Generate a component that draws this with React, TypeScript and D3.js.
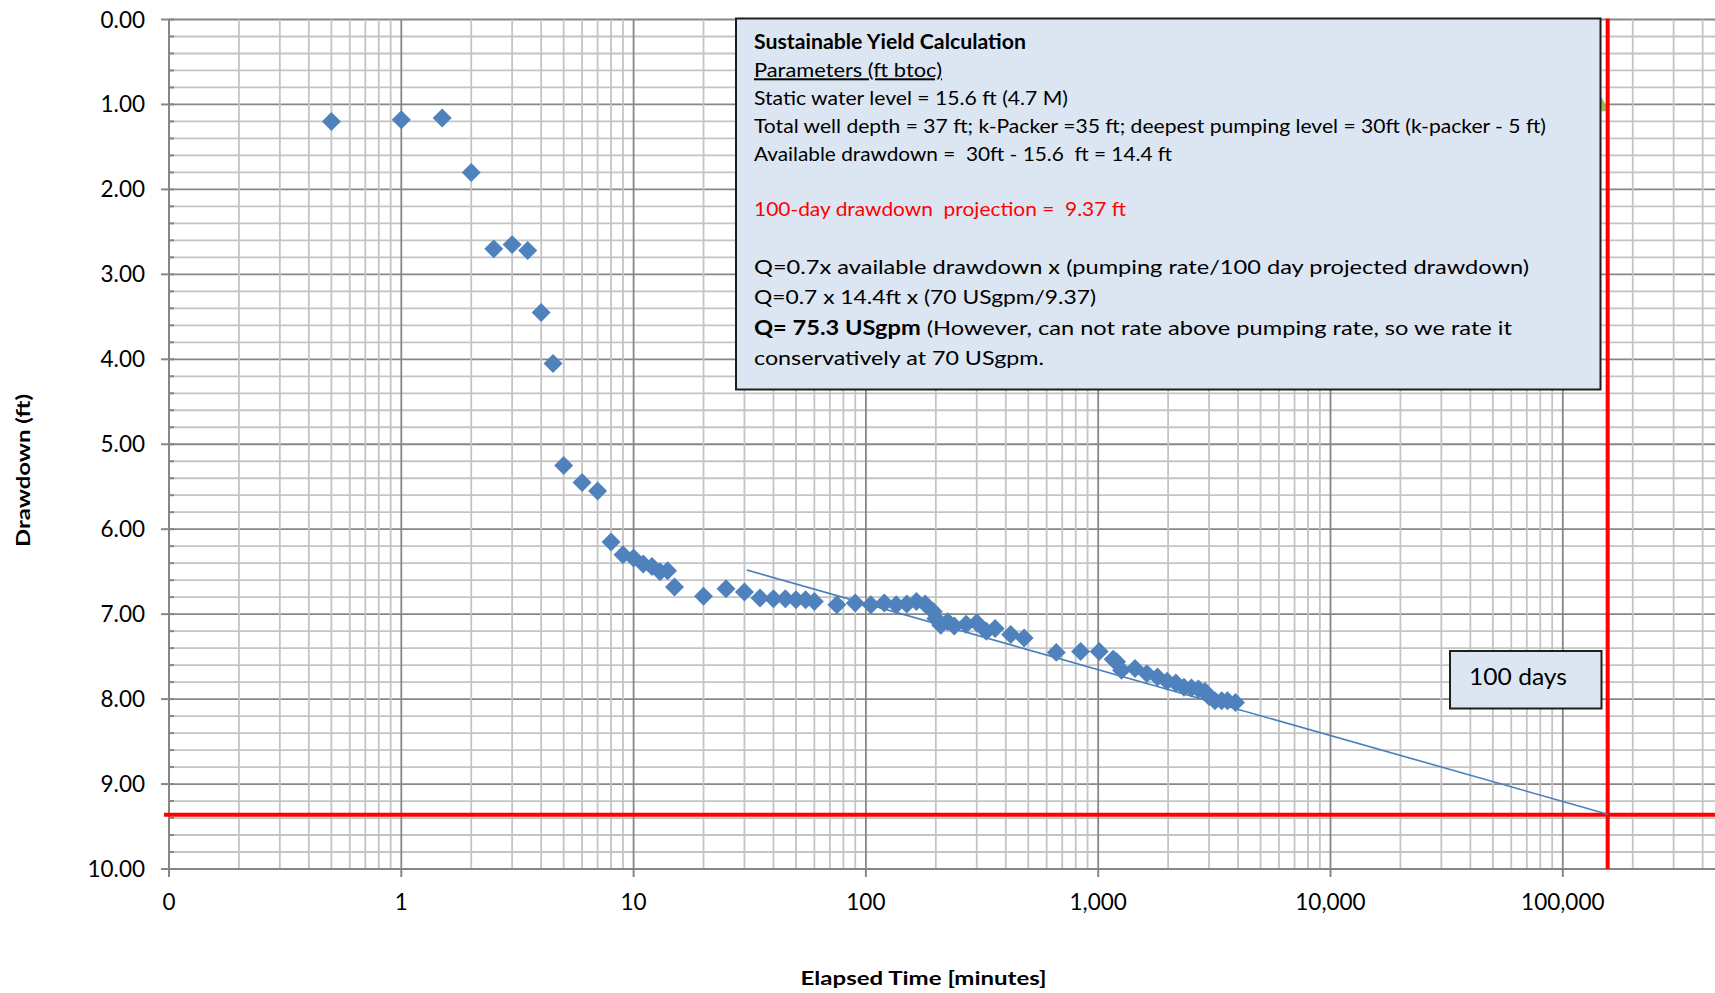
import React from 'react';
import * as d3 from 'd3';

// ---------- data ----------
const times = [
  0.5, 1, 1.5, 2, 2.5, 3, 3.5, 4, 4.5, 5, 6, 7, 8, 9, 10, 11, 12, 13, 14, 15,
  20, 25, 30, 35, 40, 45, 50, 55, 60, 75, 90, 105, 120, 135, 150, 165, 180,
  195, 200, 210, 225, 240, 270, 300, 330, 360, 420, 480, 660, 840, 1010, 1160,
  1200, 1260, 1440, 1620, 1800, 1980, 2160, 2340, 2520, 2700, 2880, 3000, 3180,
  3400, 3600, 3900,
];
const drawdowns = [
  1.2, 1.18, 1.16, 1.8, 2.7, 2.65, 2.72, 3.45, 4.05, 5.25, 5.45, 5.55, 6.15, 6.3,
  6.34, 6.41, 6.44, 6.5, 6.49, 6.68, 6.79, 6.7, 6.74, 6.81, 6.82, 6.82, 6.83,
  6.83, 6.85, 6.89, 6.87, 6.89, 6.87, 6.89, 6.88, 6.85, 6.88, 6.97, 7.05, 7.13,
  7.09, 7.14, 7.12, 7.1, 7.2, 7.17, 7.24, 7.28, 7.45, 7.44, 7.44, 7.53, 7.56,
  7.66, 7.64, 7.7, 7.74, 7.79, 7.81, 7.86, 7.87, 7.88, 7.91, 7.97, 8.02, 8.02,
  8.02, 8.04,
];
const trendTimes = [30.7, 156000];
const trendDrawdowns = [6.48, 9.355];
const projectionTime = 156000;
const projectionDrawdown = 9.36;
const hundredDayTime = 144000;
const hundredDayDrawdown = 1.0;

const xTickValues = [0.1, 1, 10, 100, 1000, 10000, 100000];
const xTickLabels = ['0', '1', '10', '100', '1,000', '10,000', '100,000'];
const yTickValues = [0, 1, 2, 3, 4, 5, 6, 7, 8, 9, 10];
const yTickLabels = yTickValues.map((v) => v.toFixed(2));

const boxLines = [
  'Sustainable Yield Calculation',
  'Parameters (ft btoc)',
  'Static water level = 15.6 ft (4.7 M)',
  'Total well depth = 37 ft; k-Packer =35 ft; deepest pumping level = 30ft (k-packer - 5 ft)',
  'Available drawdown =  30ft - 15.6  ft = 14.4 ft',
  '100-day drawdown  projection =  9.37 ft',
  'Q=0.7x available drawdown x (pumping rate/100 day projected drawdown)',
  'Q=0.7 x 14.4ft x (70 USgpm/9.37)',
  '(However, can not rate above pumping rate, so we rate it',
  'conservatively at 70 USgpm.',
];
const boldLead = 'Q= 75.3 USgpm';

// ---------- layout ----------
const W = 1715;
const H = 993;
const X0 = 169;
const DEC = 232.3;
const Y0 = 19.5;
const Y1 = 869;
const FONT = "Lato, 'Open Sans', 'Liberation Sans', sans-serif";
const boxBaselines = [49.3, 77.3, 105, 133.3, 161, 216, 274, 304, 335, 365];
const boxWidths = [272, 188, 314, 792, 418, 372, 775, 342, 758, 290];
const boxStyles = ['bold', 'underline', '', '', '', 'red', '', '', 'boldlead', ''];

export default function App() {
  const x = d3.scaleLog().domain([0.1, 1e6]).range([X0, X0 + 7 * DEC]);
  const y = d3.scaleLinear().domain([0, 10]).range([Y0, Y1]);

  const vTicks = x.ticks().filter((t) => x(t) <= W + 2);
  const isMajor = (t: number) => Math.abs(Math.log10(t) - Math.round(Math.log10(t))) < 1e-9;
  const hMinor = d3.range(0, 10.0001, 0.2);

  const diamond = d3.symbol(d3.symbolSquare, 180)()!;
  const trendLine = d3.line<number>()
    .x((_, i) => x(trendTimes[i]))
    .y((d) => y(d))(trendDrawdowns)!;
  const triangle = d3.symbol(d3.symbolTriangle, 170)()!;

  return (
    <svg
      width={W}
      height={H}
      style={{ position: 'absolute', left: 0, top: 0, background: '#fff', fontFamily: FONT }}
    >
      <rect x={0} y={0} width={W} height={H} fill="#fff" />
      {/* horizontal grid */}
      {hMinor.map((v, i) => {
        const major = Math.abs(v - Math.round(v)) < 1e-6;
        return (
          <line
            key={'h' + i}
            x1={X0}
            x2={W}
            y1={y(v)}
            y2={y(v)}
            stroke={major ? '#878787' : '#c4c4c4'}
            strokeWidth={1.8}
          />
        );
      })}
      {/* vertical grid */}
      {vTicks.map((t, i) => (
        <line
          key={'v' + i}
          x1={x(t)}
          x2={x(t)}
          y1={Y0}
          y2={Y1}
          stroke={isMajor(t) ? '#878787' : '#c4c4c4'}
          strokeWidth={1.8}
        />
      ))}
      {/* axes */}
      <line x1={X0} x2={X0} y1={Y0} y2={Y1 + 8} stroke="#868686" strokeWidth={2} />
      <line x1={X0} x2={W} y1={Y1} y2={Y1} stroke="#868686" strokeWidth={2} />
      {yTickValues.map((v, i) => (
        <line key={'yt' + i} x1={X0 - 8} x2={X0} y1={y(v)} y2={y(v)} stroke="#868686" strokeWidth={2} />
      ))}
      {hMinor.map((v, i) => (
        <line key={'ymt' + i} x1={X0} x2={X0 + 5} y1={y(v)} y2={y(v)} stroke="#868686" strokeWidth={2} />
      ))}
      {xTickValues.map((v, i) => (
        <line key={'xt' + i} x1={x(v)} x2={x(v)} y1={Y1} y2={Y1 + 8} stroke="#868686" strokeWidth={2} />
      ))}
      {/* tick labels */}
      {yTickValues.map((v, i) => (
        <text key={'yl' + i} x={145} y={y(v) + 8} textAnchor="end" fontSize={22.5} fill="#000">
          {yTickLabels[i]}
        </text>
      ))}
      {xTickValues.map((v, i) => (
        <text key={'xl' + i} x={x(v)} y={910} textAnchor="middle" fontSize={22.5} fill="#000">
          {xTickLabels[i]}
        </text>
      ))}
      {/* axis titles */}
      <text
        x={923.6}
        y={985}
        textAnchor="middle"
        fontSize={19}
        fontWeight="bold"
        textLength={246}
        lengthAdjust="spacingAndGlyphs"
      >
        Elapsed Time [minutes]
      </text>
      <text
        transform="translate(30,470.5) rotate(-90)"
        textAnchor="middle"
        fontSize={19}
        fontWeight="bold"
        textLength={153}
        lengthAdjust="spacingAndGlyphs"
      >
        Drawdown (ft)
      </text>

      {/* red projection lines */}
      <line
        x1={X0 - 5}
        x2={W}
        y1={y(projectionDrawdown)}
        y2={y(projectionDrawdown)}
        stroke="#ff0000"
        strokeWidth={4}
      />
      {/* hidden 100-day marker */}
      <path
        d={triangle}
        transform={`translate(${x(hundredDayTime)},${y(hundredDayDrawdown) + 1})`}
        fill="#9bbb59"
      />
      <line
        x1={x(projectionTime)}
        x2={x(projectionTime)}
        y1={Y0 - 1}
        y2={Y1}
        stroke="#ff0000"
        strokeWidth={4}
      />

      {/* trend line */}
      <path d={trendLine} fill="none" stroke="#4a7ebb" strokeWidth={1.6} />

      {/* data */}
      {times.map((t, i) => (
        <path
          key={'p' + i}
          d={diamond}
          transform={`translate(${x(t)},${y(drawdowns[i])}) rotate(45)`}
          fill="#4f81bd"
        />
      ))}

      {/* calculation box */}
      <rect x={736} y={18.5} width={864.5} height={371} fill="#dce6f2" stroke="#1e1e1e" strokeWidth={2} />
      {boxLines.map((line, i) => {
        const st = boxStyles[i];
        if (st === 'boldlead') {
          return (
            <text
              key={'b' + i}
              x={754}
              y={boxBaselines[i]}
              fontSize={20}
              textLength={boxWidths[i]}
              lengthAdjust="spacingAndGlyphs"
              fill="#000"
              xmlSpace="preserve"
              style={{ whiteSpace: 'pre' }}
            >
              <tspan fontWeight="bold">{boldLead}</tspan>
              <tspan>{' ' + line}</tspan>
            </text>
          );
        }
        return (
          <text
            key={'b' + i}
            x={754}
            y={boxBaselines[i]}
            fontSize={20}
            fontWeight={st === 'bold' ? 'bold' : 'normal'}
            textDecoration={st === 'underline' ? 'underline' : undefined}
            fill={st === 'red' ? '#ff0000' : '#000'}
            textLength={boxWidths[i]}
            lengthAdjust="spacingAndGlyphs"
            xmlSpace="preserve"
            style={{ whiteSpace: 'pre' }}
          >
            {line}
          </text>
        );
      })}

      {/* 100 days label */}
      <rect x={1450} y={651} width={151.5} height={57.5} fill="#dce6f2" stroke="#1e1e1e" strokeWidth={2} />
      <text x={1469} y={685} fontSize={23} textLength={98} lengthAdjust="spacingAndGlyphs" fill="#000">
        100 days
      </text>
    </svg>
  );
}
